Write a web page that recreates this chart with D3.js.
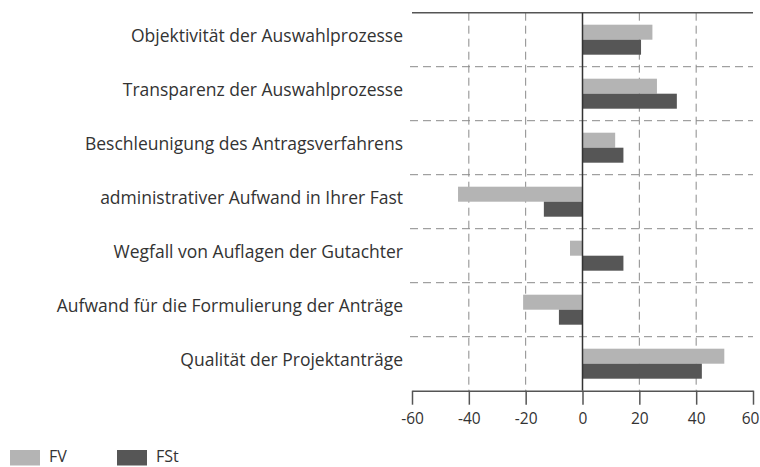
<!doctype html>
<html>
<head>
<meta charset="UTF-8">
<title>FV / FSt</title>
<script src="https://d3js.org/d3.v7.min.js"></script>
<style>
  body { margin: 0; background: #fff; }
  text { font-family: "Open Sans", sans-serif; fill: #333; }
</style>
</head>
<body>
<div id="chart"></div>
<script>
// data
var categories = [
  "Objektivität der Auswahlprozesse",
  "Transparenz der Auswahlprozesse",
  "Beschleunigung des Antragsverfahrens",
  "administrativer Aufwand in Ihrer Fast",
  "Wegfall von Auflagen der Gutachter",
  "Aufwand für die Formulierung der Anträge",
  "Qualität der Projektanträge"
];
var fvValues  = [24.6, 26.2, 11.5, -43.8, -4.4, -20.9, 49.9];
var fstValues = [20.6, 33.2, 14.4, -13.6, 14.4, -8.3, 42];
var xTicks = [-60, -40, -20, 0, 20, 40, 60];
var seriesNames = ["FV", "FSt"];
var seriesColors = ["#b4b4b4", "#565656"];

function drawChart() {
  var width = 760, height = 467;
  var plotLeft = 412, plotRight = 753, plotTop = 12.7, plotBottom = 390.7;

  var svg = d3.select("#chart").append("svg")
      .attr("width", width)
      .attr("height", height);

  var x = d3.scaleLinear().domain([-60, 60]).range([plotLeft, plotRight]);
  var y = d3.scaleBand().domain(categories).range([plotTop, plotBottom]);
  var inner = d3.scaleBand().domain(seriesNames).range([12, y.bandwidth() - 12]);

  // vertical dashed gridlines
  svg.append("g")
    .selectAll("line")
    .data(xTicks.filter(function(d){ return d !== 0 && Math.abs(d) !== 60; }))
    .join("line")
      .attr("x1", function(d){ return x(d); })
      .attr("x2", function(d){ return x(d); })
      .attr("y1", plotTop)
      .attr("y2", plotBottom)
      .attr("stroke", "#8a8a8a")
      .attr("stroke-width", 1)
      .attr("stroke-dasharray", "8,5");

  // horizontal dashed separators between categories
  svg.append("g")
    .selectAll("line")
    .data(categories.slice(1))
    .join("line")
      .attr("x1", plotLeft - 2)
      .attr("x2", plotRight)
      .attr("y1", function(d){ return y(d); })
      .attr("y2", function(d){ return y(d); })
      .attr("stroke", "#8a8a8a")
      .attr("stroke-width", 1)
      .attr("stroke-dasharray", "8,5");

  // top line
  svg.append("line")
    .attr("x1", plotLeft).attr("x2", plotRight)
    .attr("y1", plotTop).attr("y2", plotTop)
    .attr("stroke", "#555").attr("stroke-width", 1.5);

  // bars
  var rows = categories.map(function(c, i){
    return { cat: c, vals: [fvValues[i], fstValues[i]] };
  });

  var groups = svg.append("g")
    .selectAll("g")
    .data(rows)
    .join("g")
      .attr("transform", function(d){ return "translate(0," + y(d.cat) + ")"; });

  groups.selectAll("rect")
    .data(function(d){ return d.vals.map(function(v, j){ return { v: v, s: seriesNames[j], c: seriesColors[j] }; }); })
    .join("rect")
      .attr("x", function(d){ return x(Math.min(0, d.v)); })
      .attr("y", function(d){ return inner(d.s); })
      .attr("width", function(d){ return Math.abs(x(d.v) - x(0)); })
      .attr("height", inner.bandwidth())
      .attr("fill", function(d){ return d.c; });

  // category labels
  svg.append("g")
    .selectAll("text")
    .data(categories)
    .join("text")
      .attr("x", 403)
      .attr("y", function(d){ return y(d) + y.bandwidth() / 2 - 2; })
      .attr("text-anchor", "end")
      .attr("dominant-baseline", "middle")
      .style("font-size", "17.5px")
      .text(function(d){ return d; });

  // zero line
  svg.append("line")
    .attr("x1", x(0)).attr("x2", x(0))
    .attr("y1", plotTop).attr("y2", plotBottom)
    .attr("stroke", "#333").attr("stroke-width", 1.5);

  // x axis
  var xAxis = svg.append("g")
    .attr("transform", "translate(0," + plotBottom + ")")
    .call(d3.axisBottom(x).tickValues(xTicks).tickSize(14).tickSizeOuter(0).tickPadding(8));
  xAxis.select(".domain").attr("stroke", "#555").attr("stroke-width", 1.5);
  xAxis.selectAll(".tick line").attr("stroke", "#555").attr("stroke-width", 1.5);
  xAxis.selectAll(".tick text")
    .style("font-size", "15.5px")
    .style("font-family", "'Open Sans', sans-serif")
    .attr("fill", "#333")
    .attr("dx", function(d){ return d === 60 ? -3 : 0; })
    .text(function(d){ return d < 0 ? "-" + Math.abs(d) : d; });

  // legend
  var legend = svg.append("g")
    .selectAll("g")
    .data(seriesNames)
    .join("g")
      .attr("transform", function(d, i){ return "translate(" + (10 + i * 107) + ",450)"; });
  legend.append("rect")
    .attr("width", 30).attr("height", 15.5)
    .attr("fill", function(d, i){ return seriesColors[i]; });
  legend.append("text")
    .attr("x", 39).attr("y", 8)
    .attr("dominant-baseline", "middle")
    .style("font-size", "16px")
    .text(function(d){ return d; });
}

drawChart();
</script>
</body>
</html>
